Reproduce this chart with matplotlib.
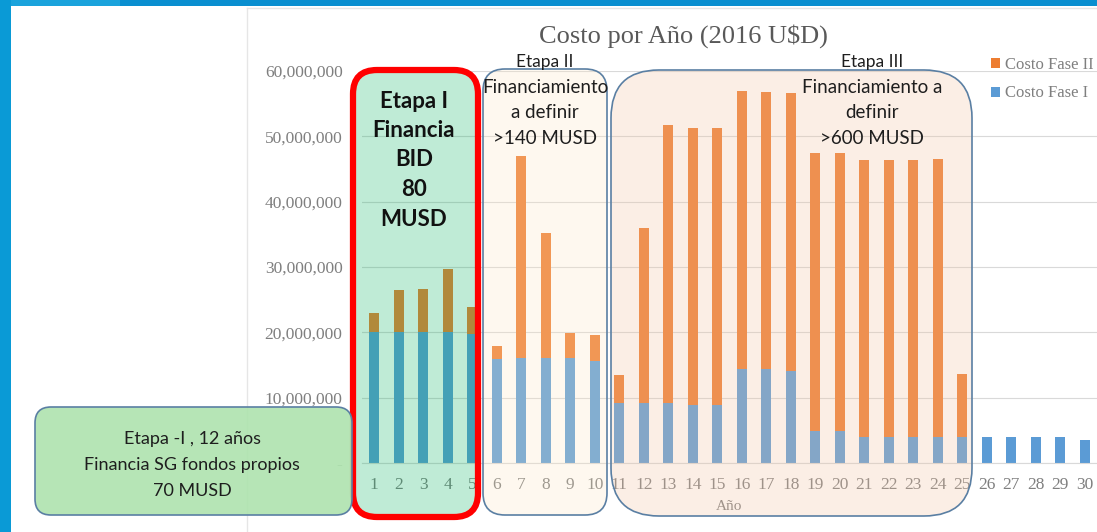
import matplotlib
matplotlib.use("Agg")
import matplotlib.pyplot as plt
from matplotlib.patches import FancyBboxPatch, Rectangle
from matplotlib.ticker import FuncFormatter
import numpy as np

# Annual cost per phase (USD 2016), years 1..30
years = list(range(1, 31))
costo_fase_i = [
    20.0e6, 20.0e6, 20.0e6, 20.0e6, 19.7e6,
    15.9e6, 16.0e6, 16.0e6, 16.0e6, 15.6e6,
    9.2e6, 9.2e6, 9.2e6, 8.9e6, 8.9e6,
    14.4e6, 14.4e6, 14.1e6, 4.9e6, 4.9e6,
    4.0e6, 4.0e6, 4.0e6, 4.0e6, 4.0e6,
    4.0e6, 4.0e6, 4.0e6, 4.0e6, 3.5e6,
]
costo_total = [
    23.0e6, 26.5e6, 26.6e6, 29.7e6, 23.9e6,
    17.9e6, 47.0e6, 35.2e6, 19.9e6, 19.6e6,
    13.5e6, 36.0e6, 51.8e6, 51.3e6, 51.3e6,
    57.0e6, 56.8e6, 56.6e6, 47.5e6, 47.5e6,
    46.4e6, 46.4e6, 46.4e6, 46.5e6, 13.6e6,
    4.0e6, 4.0e6, 4.0e6, 4.0e6, 3.5e6,
]
costo_fase_ii = [t - f for t, f in zip(costo_total, costo_fase_i)]

y_ticks = [0, 10e6, 20e6, 30e6, 40e6, 50e6, 60e6]

W, H = 1097, 532
SERIF = ["Liberation Serif", "DejaVu Serif"]
SANS = ["Lato", "DejaVu Sans"]
GRAY = "#7f7f7f"
INK = "#1e1e1e"

fig = plt.figure(figsize=(W / 100, H / 100), dpi=100)
fig.patch.set_facecolor("white")


def px_box(x0, y0, x1, y1):
    """Figure-fraction rect from pixel corners (origin top-left)."""
    return [x0 / W, 1 - y1 / H, (x1 - x0) / W, (y1 - y0) / H]


# slide frame behind the chart
bg = fig.add_axes([0, 0, 1, 1], zorder=0)
bg.set_xlim(0, W)
bg.set_ylim(H, 0)
bg.axis("off")
bg.add_patch(Rectangle((0, 0), W, 6, color="#0a8fd0", lw=0))
bg.add_patch(Rectangle((0, 0), 120, 6, color="#1aa3dc", lw=0))
bg.add_patch(Rectangle((0, 0), 11, H, color="#0a9ad6", lw=0))
bg.plot([247, 247], [8, H], color="#e6e6e6", lw=1)
bg.plot([247, W], [8, 8], color="#e6e6e6", lw=1)

# chart
ax = fig.add_axes(px_box(362, 71, 1097, 463), zorder=1)
ax.patch.set_alpha(0)
x = np.array(years)
bw = 0.42
ax.bar(x, costo_fase_i, width=bw, color="#5b9bd5", zorder=2, label="Costo Fase I")
ax.bar(x, costo_fase_ii, width=bw, bottom=costo_fase_i, color="#ed7d31", zorder=2,
       label="Costo Fase II")
ax.set_xlim(0.5, 30.5)
ax.set_ylim(0, 60e6)
ax.set_yticks(y_ticks)
ax.yaxis.set_major_formatter(FuncFormatter(lambda v, _: "-" if v == 0 else f"{v:,.0f}"))
ax.set_xticks(years)
ax.grid(axis="y", color="#d9d9d9", lw=0.8, zorder=0)
for side in ("top", "right", "left"):
    ax.spines[side].set_visible(False)
ax.spines["bottom"].set_color("#d9d9d9")
ax.tick_params(axis="y", length=0, pad=14, labelsize=12.5, labelcolor=GRAY)
ax.tick_params(axis="x", length=0, pad=10, labelsize=12.5, labelcolor=GRAY)
for lbl in ax.get_xticklabels() + ax.get_yticklabels():
    lbl.set_family(SERIF)
ax.set_xlabel("Año", family=SERIF, fontsize=11, color=GRAY, labelpad=5)

fig.text(683 / W, 1 - 36 / H, "Costo por Año (2016 U$D)", ha="center", va="center",
         family=SERIF, fontsize=19, color="#595959")

handles, labels = ax.get_legend_handles_labels()
leg = fig.legend(handles[::-1], labels[::-1], loc="upper left",
                 bbox_to_anchor=(976 / W, 1 - 42 / H), frameon=False,
                 handlelength=0.55, handleheight=0.55, handletextpad=0.3,
                 labelspacing=0.75, prop={"family": SERIF, "size": 12})
for t in leg.get_texts():
    t.set_color(GRAY)

# stage boxes drawn over the bars
ov = fig.add_axes([0, 0, 1, 1], zorder=3)
ov.set_xlim(0, W)
ov.set_ylim(H, 0)
ov.axis("off")
ov.patch.set_alpha(0)


def stage_box(x0, y0, x1, y1, r, face, alpha, edge, lw):
    ov.add_patch(FancyBboxPatch((x0 + r, y0 + r), x1 - x0 - 2 * r, y1 - y0 - 2 * r,
                                boxstyle=f"round,pad={r}", facecolor=face,
                                edgecolor="none", alpha=alpha))
    ov.add_patch(FancyBboxPatch((x0 + r, y0 + r), x1 - x0 - 2 * r, y1 - y0 - 2 * r,
                                boxstyle=f"round,pad={r}", facecolor="none",
                                edgecolor=edge, lw=lw))


stage_box(483, 69, 607, 515, 22, "#fde7c2", 0.25, "#5a7fa3", 1.2)
stage_box(611, 70, 972, 516, 48, "#f2c4a4", 0.28, "#5a7fa3", 1.2)
stage_box(353, 70, 478, 517, 24, "#00b05c", 0.25, "#ff0000", 4.5)
stage_box(35, 407, 352, 515, 16, "#aee3ae", 0.9, "#5a7fa3", 1.2)

ov.text(545, 62, "Etapa II", ha="center", va="center", family=SANS, fontsize=12.5,
        color=INK)
ov.text(545, 113, "Financiamiento\na definir\n>140 MUSD", ha="center", va="center",
        family=SANS, fontsize=13.5, color=INK, linespacing=1.58)
ov.text(872, 62, "Etapa III", ha="center", va="center", family=SANS, fontsize=12.5,
        color=INK)
ov.text(872, 113, "Financiamiento a\ndefinir\n>600 MUSD", ha="center", va="center",
        family=SANS, fontsize=13.5, color=INK, linespacing=1.58)
ov.text(414, 160, "Etapa I\nFinancia\nBID\n80\nMUSD", ha="center", va="center",
        family=SANS, fontsize=16, fontweight="bold", color="#111111",
        linespacing=1.5)
ov.text(192, 465, "Etapa -I , 12 años\nFinancia SG fondos propios\n70 MUSD",
        ha="center", va="center", family=SANS, fontsize=13, color=INK,
        linespacing=1.78)

fig.savefig("out.png", dpi=100)
